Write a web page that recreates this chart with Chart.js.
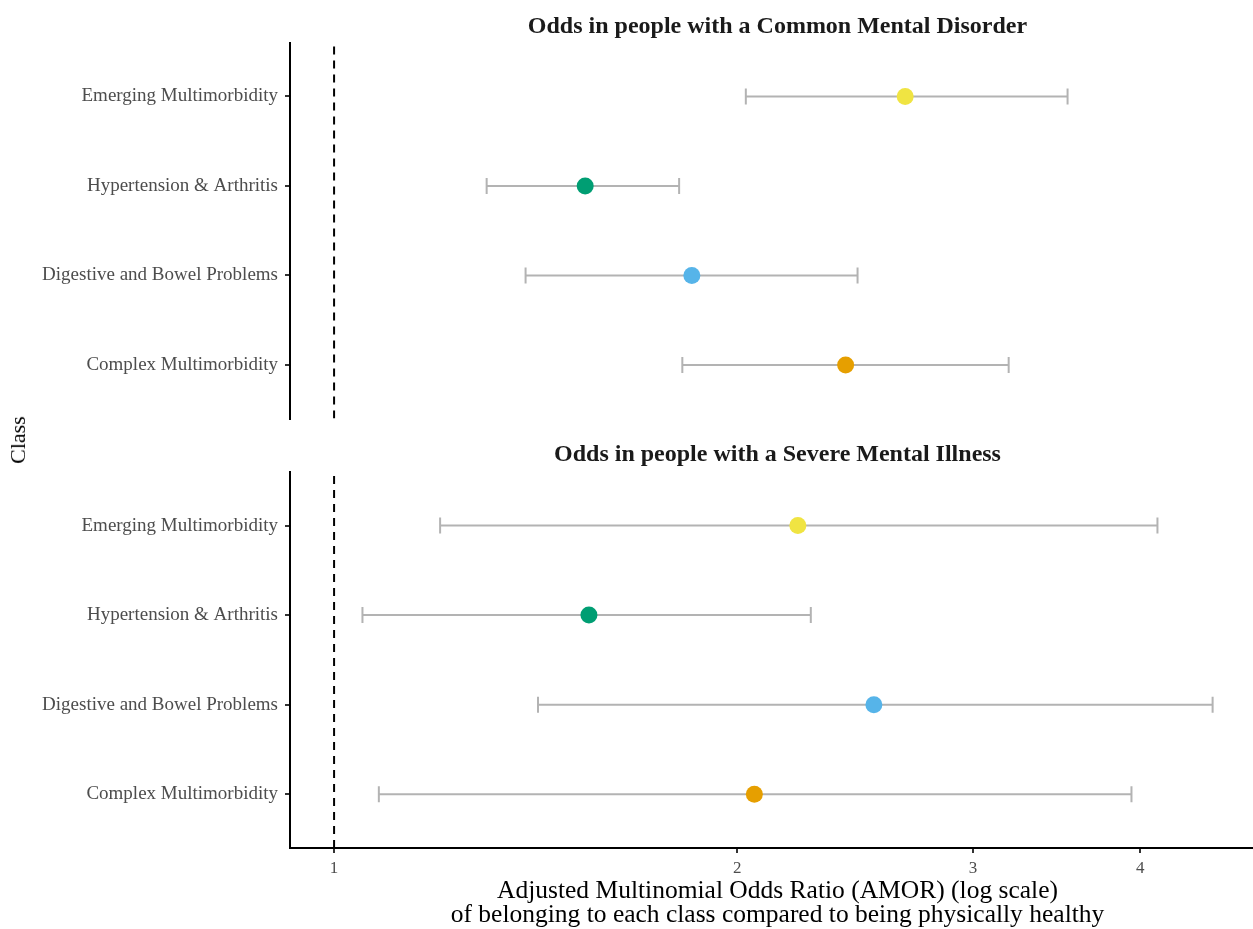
<!DOCTYPE html>
<html>
<head>
<meta charset="utf-8">
<script src="https://cdn.jsdelivr.net/npm/chart.js@4/dist/chart.umd.min.js"></script>
<style>
  html, body { margin: 0; padding: 0; background: #ffffff; overflow: hidden; width: 1253px; height: 929px; position: relative; }
  canvas { position: absolute; left: 0; }
  #c1 { top: 0; }
  #c2 { top: 430px; }
  #ytitle { position: absolute; left: 18px; top: 440px; transform: translate(-50%, -50%) rotate(-90deg);
            font-family: "Liberation Serif", serif; font-size: 22px; color: #000; white-space: nowrap; }
</style>
</head>
<body>
<canvas id="c1" width="1265" height="437"></canvas>
<canvas id="c2" width="1265" height="499"></canvas>
<div id="ytitle">Class</div>
<script>
// ---- data ----
const categories = ['Emerging Multimorbidity', 'Hypertension & Arthritis', 'Digestive and Bowel Problems', 'Complex Multimorbidity'];
const classColors = ['#F0E442', '#009E73', '#56B4E9', '#E69F00'];

const cmdOR = [2.67, 1.54, 1.85, 2.41];
const cmdLo = [2.03, 1.30, 1.39, 1.82];
const cmdHi = [3.53, 1.81, 2.46, 3.19];

const smiOR = [2.22, 1.55, 2.53, 2.06];
const smiLo = [1.20, 1.05, 1.42, 1.08];
const smiHi = [4.12, 2.27, 4.53, 3.94];

const xTicks = [1, 2, 3, 4];
const refValue = 1;
const panelTitles = ['Odds in people with a Common Mental Disorder', 'Odds in people with a Severe Mental Illness'];
const xTitle = ['Adjusted Multinomial Odds Ratio (AMOR) (log scale)', 'of belonging to each class compared to being physically healthy'];

const X_MIN = 0.927, X_MAX = 4.957;
const Y_MIN = 0.4, Y_MAX = 4.6;
const serif = '"Liberation Serif", "Times New Roman", serif';

Chart.defaults.font.family = serif;

function rowOf(i) { return categories.length - i; }

function buildDatasets(or, lo, hi) {
  const ds = [];
  ds.push({
    type: 'scatter',
    data: or.map((v, i) => ({ x: v, y: rowOf(i) })),
    backgroundColor: classColors,
    borderWidth: 0,
    pointRadius: 8.5,
    pointHoverRadius: 8.5
  });
  categories.forEach((c, i) => {
    ds.push({
      type: 'scatter',
      showLine: true,
      data: [{ x: lo[i], y: rowOf(i) }, { x: hi[i], y: rowOf(i) }],
      borderColor: '#b3b3b3',
      borderWidth: 2,
      pointStyle: 'line',
      rotation: 90,
      pointRadius: 8,
      pointBorderColor: '#b3b3b3',
      pointBorderWidth: 2,
      pointBackgroundColor: '#b3b3b3'
    });
  });
  ds.push({
    type: 'scatter',
    showLine: true,
    data: [{ x: refValue, y: Y_MIN }, { x: refValue, y: Y_MAX }],
    borderColor: '#000000',
    borderWidth: 2,
    borderDash: [8, 6],
    pointRadius: 0
  });
  return ds;
}

function makeChart(id, title, titlePad, or, lo, hi, showX, bottomPad) {
  return new Chart(document.getElementById(id), {
    type: 'scatter',
    data: { datasets: buildDatasets(or, lo, hi) },
    options: {
      responsive: false,
      animation: false,
      events: [],
      devicePixelRatio: 1,
      layout: { autoPadding: false, padding: { left: 0, right: 0, top: 0, bottom: bottomPad } },
      plugins: {
        legend: { display: false },
        tooltip: { enabled: false },
        title: {
          display: true,
          text: title,
          fullSize: false,
          color: '#1a1a1a',
          font: { family: serif, size: 24, weight: 'bold', lineHeight: 1.2 },
          padding: titlePad
        }
      },
      scales: {
        x: {
          type: 'logarithmic',
          min: X_MIN, max: X_MAX,
          display: showX,
          afterBuildTicks: (s) => { s.ticks = xTicks.map(v => ({ value: v })); },
          afterFit: (s) => { if (showX) s.height = 81; },
          grid: { display: true, drawOnChartArea: false, drawTicks: true, tickLength: 5, color: '#333333', lineWidth: 2 },
          border: { display: true, color: '#000000', width: 2 },
          ticks: {
            autoSkip: false, maxRotation: 0, padding: 5,
            color: '#4d4d4d', font: { family: serif, size: 17 },
            callback: (v) => String(v)
          },
          title: {
            display: showX,
            text: xTitle,
            color: '#000000',
            font: { family: serif, size: 25.5, lineHeight: 0.96 },
            padding: { top: 2, bottom: 1 }
          }
        },
        y: {
          type: 'linear',
          min: Y_MIN, max: Y_MAX,
          afterBuildTicks: (s) => { s.ticks = [1, 2, 3, 4].map(v => ({ value: v })); },
          afterFit: (s) => { s.width = 290; },
          grid: { display: true, drawOnChartArea: false, drawTicks: true, tickLength: 5, color: '#333333', lineWidth: 2 },
          border: { display: true, color: '#000000', width: 2 },
          ticks: {
            autoSkip: false, padding: 7,
            color: '#4d4d4d', font: { family: serif, size: 19 },
            callback: (v) => categories[categories.length - v]
          }
        }
      }
    }
  });
}

makeChart('c1', panelTitles[0], { top: 12, bottom: 2 }, cmdOR, cmdLo, cmdHi, false, 0);
makeChart('c2', panelTitles[1], { top: 10, bottom: 3 }, smiOR, smiLo, smiHi, true, 0);
</script>
</body>
</html>
